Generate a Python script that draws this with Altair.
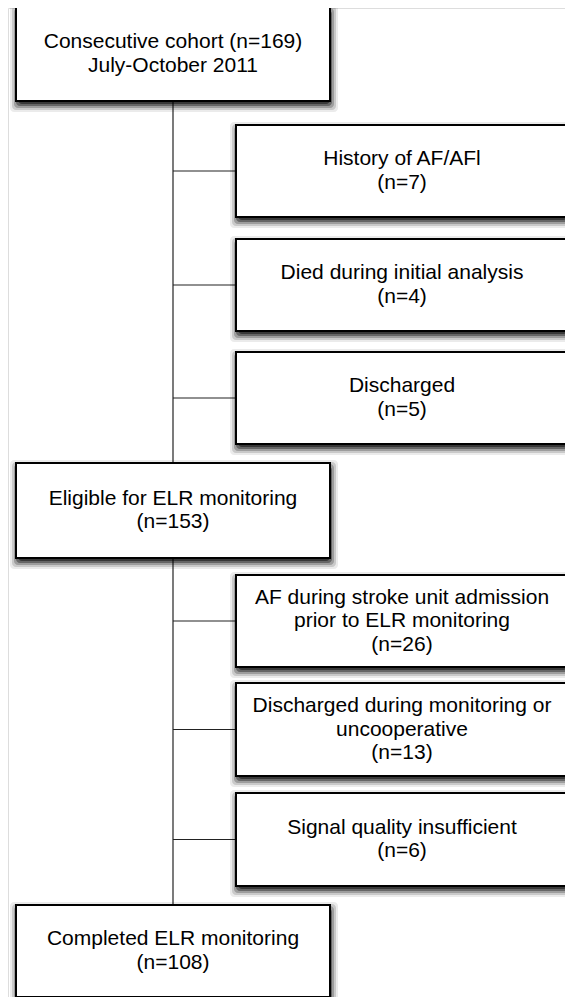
import altair as alt
import pandas as pd

# ---- content ----
main_titles = ["Consecutive cohort (n=169)", "Eligible for ELR monitoring", "Completed ELR monitoring"]
main_sub = ["July-October 2011", "(n=153)", "(n=108)"]
excl_titles = [
    "History of AF/AFl",
    "Died during initial analysis",
    "Discharged",
    "AF during stroke unit admission\nprior to ELR monitoring",
    "Discharged during monitoring or\nuncooperative",
    "Signal quality insufficient",
]
excl_n = [7, 4, 5, 26, 13, 6]

# ---- layout (page pixel space) ----
main_x = (16, 330)
main_top = [7, 463, 905]
main_bot = [101, 558, 997]
side_x = (236, 568)
side_top = [125, 239, 352, 575, 683, 793]
side_bot = [217, 331, 444, 667, 776, 886]
spine_x = 173
LH = 23.5

boxes = []
for t, s, y0, y1 in zip(main_titles, main_sub, main_top, main_bot):
    boxes.append(dict(x0=main_x[0], x1=main_x[1], y0=y0, y1=y1, label=f"{t}\n{s}"))
for t, n, y0, y1 in zip(excl_titles, excl_n, side_top, side_bot):
    boxes.append(dict(x0=side_x[0], x1=side_x[1], y0=y0, y1=y1, label=f"{t}\n(n={n})"))
bdf = pd.DataFrame(boxes)
bdf["cx"] = (bdf.x0 + bdf.x1) / 2
bdf["nl"] = bdf.label.str.count("\n") + 1
bdf["ty"] = (bdf.y0 + bdf.y1) / 2 - (bdf.nl - 1) * LH / 2

# connectors
segs = []
segs.append(dict(x0=spine_x, x1=spine_x, y0=main_bot[0], y1=main_top[1]))
segs.append(dict(x0=spine_x, x1=spine_x, y0=main_bot[1], y1=main_top[2]))
for y0, y1 in zip(side_top, side_bot):
    cy = (y0 + y1) / 2
    segs.append(dict(x0=spine_x, x1=side_x[0], y0=cy, y1=cy))
sdf = pd.DataFrame(segs)

# shadow layers (soft drop shadow approximation)
sh = []
for e, op in [(7, 0.08), (5, 0.14), (3, 0.22), (1, 0.35), (-1, 0.45)]:
    for b in boxes:
        sh.append(dict(x0=b["x0"] - e + 1, x1=b["x1"] + e + 1, y0=b["y0"] - e + 4, y1=b["y1"] + e + 4, op=op))
shdf = pd.DataFrame(sh)

W, H = 557, 989
xs = alt.Scale(domain=[8, 8 + W], nice=False, zero=False)
ys = alt.Scale(domain=[8, 8 + H], nice=False, zero=False, reverse=True)

lines = alt.Chart(sdf).mark_rule(color="#222", strokeWidth=1.2).encode(
    x=alt.X("x0:Q", scale=xs, axis=None), x2="x1:Q",
    y=alt.Y("y0:Q", scale=ys, axis=None), y2="y1:Q",
)

shadow = alt.Chart(shdf).mark_rect(color="black", cornerRadius=4).encode(
    x=alt.X("x0:Q", scale=xs, axis=None), x2="x1:Q",
    y=alt.Y("y0:Q", scale=ys, axis=None), y2="y1:Q",
    opacity=alt.Opacity("op:Q", scale=None, legend=None),
)

rects = alt.Chart(bdf).mark_rect(fill="white", stroke="#000", strokeWidth=2).encode(
    x=alt.X("x0:Q", scale=xs, axis=None), x2="x1:Q",
    y=alt.Y("y0:Q", scale=ys, axis=None), y2="y1:Q",
)

texts = alt.Chart(bdf).mark_text(
    font="Liberation Sans", fontSize=21, lineBreak="\n", lineHeight=LH,
    align="center", baseline="middle", color="#000",
).encode(
    x=alt.X("cx:Q", scale=xs, axis=None),
    y=alt.Y("ty:Q", scale=ys, axis=None),
    text="label:N",
)

chart = (
    alt.layer(lines, shadow, rects, texts)
    .properties(width=W, height=H, padding=0, autosize=alt.AutoSizeParams(type="none"))
    .configure_view(stroke="transparent", strokeWidth=0)
    .configure(background="white")
)

chart.save("out.html", embed_options={"renderer": "svg", "actions": False})
